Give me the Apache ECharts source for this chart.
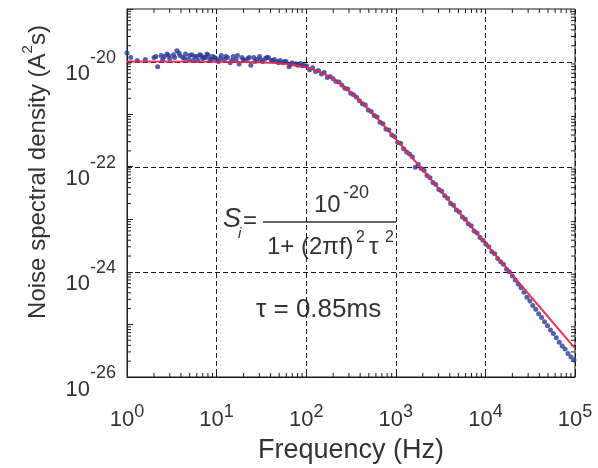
<!DOCTYPE html>
<html>
<head>
<meta charset="utf-8">
<script src="https://cdn.jsdelivr.net/npm/echarts@6/dist/echarts.min.js"></script>
<style>
  html, body { margin: 0; padding: 0; background: #ffffff; }
  #chart { width: 598px; height: 468px; }
</style>
</head>
<body>
<div id="chart"></div>
<script>
// Measured current-noise spectrum (frequency in Hz, PSD in A^2 s)
const freqHz = [
  1.0, 1.1, 1.3, 1.6, 2.0, 2.2, 2.4, 2.6, 2.8, 3.0, 3.3, 3.6, 3.9, 4.2, 4.5, 4.9, 5.3, 5.7, 6.2, 6.7, 7.2, 7.8, 8.4, 9.1, 9.8,
  10.5, 11.3, 12.2, 13.2, 14.2, 15.3, 16.5, 17.8, 19.2, 20.7, 22.3, 24.1, 26.0, 28.0, 30.2, 32.6, 35.1, 37.9, 40.9, 44.1,
  47.5, 51.3, 55.3, 59.6, 64.3, 69.4, 74.8, 80.7, 87.0, 93.8,
  101, 109, 118, 127, 137, 148, 159, 172, 185, 200, 215, 232, 250, 270, 291, 314, 338, 365, 393, 424, 457, 493, 532, 573,
  618, 667, 719, 775, 836, 902, 973,
  1050, 1130, 1220, 1320, 1420, 1530, 1650, 1780, 1920, 2070, 2230, 2410, 2600, 2800, 3020, 3260, 3510, 3790, 4090, 4410,
  4750, 5130, 5530, 5960, 6430, 6940, 7480, 8070, 8700, 9380,
  10100, 10900, 11800, 12700, 13700, 14800, 15900, 17200, 18500, 20000, 21500, 23200, 25000, 27000, 29100, 31400, 33800,
  36500, 39300, 42400, 45700, 49300, 53200, 57300, 61800, 66700, 71900, 77500, 83600, 90200, 97300,
  // second sweep over the low-frequency plateau
  2.1, 2.5, 2.9, 3.4, 3.8, 4.4, 5.0, 5.5, 6.0, 6.5, 7.0, 7.5, 8.1, 8.8, 9.5, 11.0, 12.7, 14.8, 17.1, 19.9, 23.1, 26.8,
  31.1, 36.3, 42.3, 49.3, 57.4, 66.8, 77.8, 90.5
];
const measuredPsd = [
  1.45e-20, 1.2e-20, 1.05e-20, 1.1e-20, 1.2e-20, 0.8e-20, 1.3e-20, 1.25e-20, 1.4e-20, 1.15e-20, 1.35e-20, 1.6e-20, 1.3e-20,
  1.2e-20, 1.4e-20, 1.1e-20, 1.35e-20, 1.25e-20, 1.05e-20, 1.3e-20, 1.2e-20, 1.4e-20, 1.1e-20, 1.25e-20, 1.15e-20,
  1.0e-20, 1.3e-20, 1.1e-20, 1.2e-20, 0.95e-20, 1.25e-20, 1.1e-20, 0.9e-20, 1.2e-20, 1.05e-20, 1.15e-20, 0.85e-20, 1.2e-20,
  1.1e-20, 1.25e-20, 1.0e-20, 1.15e-20, 1.2e-20, 1.05e-20, 1.1e-20, 1.0e-20, 1.05e-20, 0.95e-20, 1.0e-20, 0.8e-20,
  0.95e-20, 0.9e-20, 0.85e-20, 0.92e-20, 0.85e-20,
  8.2e-21, 7.0e-21, 7.6e-21, 6.5e-21, 6.8e-21, 5.8e-21, 6.2e-21, 5.0e-21, 5.2e-21, 4.7e-21, 4.2e-21, 4.1e-21, 3.6e-21,
  3.1e-21, 3.0e-21, 2.5e-21, 2.35e-21, 2.1e-21, 1.8e-21, 1.58e-21, 1.5e-21, 1.2e-21, 1.12e-21, 9.4e-22, 8.8e-22, 7.0e-22,
  6.6e-22, 5.2e-22, 5.0e-22, 4.0e-22, 3.7e-22,
  2.9e-22, 2.8e-22, 2.2e-22, 1.9e-22, 1.75e-22, 1.55e-22, 9.8e-23, 1.12e-22, 9.2e-23, 8.5e-23, 6.8e-23, 6.2e-23, 5.0e-23,
  4.6e-23, 3.7e-23, 3.4e-23, 2.8e-23, 2.5e-23, 2.0e-23, 1.85e-23, 1.5e-23, 1.38e-23, 1.1e-23, 1.0e-23, 8.2e-24, 7.5e-24,
  6.0e-24, 5.5e-24, 4.5e-24, 4.0e-24,
  3.4e-24, 3.0e-24, 2.4e-24, 2.2e-24, 1.8e-24, 1.55e-24, 1.4e-24, 1.12e-24, 1.0e-24, 8.3e-25, 7.0e-25, 5.9e-25, 5.0e-25,
  4.1e-25, 3.3e-25, 2.8e-25, 2.3e-25, 1.95e-25, 1.6e-25, 1.35e-25, 1.12e-25, 9.4e-26, 7.8e-26, 6.7e-26, 5.6e-26, 4.6e-26,
  3.9e-26, 3.4e-26, 2.8e-26, 2.4e-26, 2.1e-26,
  1.25e-20, 1.1e-20, 1.3e-20, 1.2e-20, 1.45e-20, 1.15e-20, 1.3e-20, 1.05e-20, 1.25e-20, 1.35e-20, 1.15e-20, 1.2e-20,
  1.3e-20, 1.1e-20, 1.2e-20, 1.15e-20, 1.25e-20, 1.05e-20, 1.3e-20, 1.1e-20, 1.2e-20, 1.0e-20, 1.1e-20, 1.2e-20,
  1.05e-20, 0.95e-20, 1.0e-20, 0.88e-20, 0.9e-20, 0.83e-20
];

// Lorentzian fit, tau = 0.85 ms
const fitFreqHz = [1, 10, 30, 50, 70, 100, 130, 160, 187, 220, 260, 300, 350, 420, 500, 600, 750, 1000, 1500, 2000, 3000,
  5000, 10000, 20000, 50000, 100000];
const fitPsd = [1.0e-20, 9.97e-21, 9.75e-21, 9.33e-21, 8.77e-21, 7.78e-21, 6.74e-21, 5.77e-21, 5.0e-21, 4.19e-21, 3.41e-21,
  2.80e-21, 2.22e-21, 1.65e-21, 1.23e-21, 8.85e-22, 5.85e-22, 3.38e-22, 1.53e-22, 8.67e-23, 3.87e-23, 1.40e-23, 3.5e-24,
  8.74e-25, 1.40e-25, 3.5e-26];

// Tick labels (powers of ten) and dashed horizontal grid levels
const xLabelExponents = [0, 1, 2, 3, 4, 5];
const yLabelExponents = [-26, -24, -22, -20];
const yGridLevels = [1e-24, 1e-22, 1e-20];

// Minor tick positions: 2..9 within each decade
const minorTickX = [];
for (let e = 0; e < 5; e++) for (let m = 2; m <= 9; m++) minorTickX.push([m * Math.pow(10, e), 1e-22]);
const minorTickY = [];
for (let e = -26; e < -19; e++) for (let m = 2; m <= 9; m++) minorTickY.push([10, m * Math.pow(10, e)]);

const FONT = '"Liberation Sans", Arial, Helvetica, sans-serif';
const TXT = '#333333';
const AXIS = '#1a1a1a';
const DASH = [5, 3];

function powLabel(allowed) {
  return function (v) {
    const e = Math.round(Math.log10(v));
    return allowed.indexOf(e) >= 0 ? '{b|10}{s|' + e + '}' : '';
  };
}
const xLabelRich = {
  b: { fontSize: 22, fontFamily: FONT, color: TXT, lineHeight: 28, verticalAlign: 'bottom' },
  s: { fontSize: 18, fontFamily: FONT, color: TXT, lineHeight: 16, verticalAlign: 'top' }
};
const yLabelRich = {
  b: { fontSize: 22, fontFamily: FONT, fill: TXT, lineHeight: 36, verticalAlign: 'bottom' },
  s: { fontSize: 18, fontFamily: FONT, fill: TXT, lineHeight: 16, verticalAlign: 'top' }
};

// Short inside ticks on all four sides at the 2..9 positions
function minorTickRenderer(isX) {
  return function (params, api) {
    const cs = params.coordSys;
    const pt = api.coord([api.value(0), api.value(1)]);
    const L = 4;
    const st = { stroke: AXIS, lineWidth: 1 };
    if (isX) {
      const x = pt[0];
      return { type: 'group', children: [
        { type: 'line', shape: { x1: x, y1: cs.y + cs.height, x2: x, y2: cs.y + cs.height - L }, style: st },
        { type: 'line', shape: { x1: x, y1: cs.y, x2: x, y2: cs.y + L }, style: st }
      ] };
    }
    const y = pt[1];
    return { type: 'group', children: [
      { type: 'line', shape: { x1: cs.x, y1: y, x2: cs.x + L, y2: y }, style: st },
      { type: 'line', shape: { x1: cs.x + cs.width, y1: y, x2: cs.x + cs.width - L, y2: y }, style: st }
    ] };
  };
}

// Dashed horizontal grid lines at every second decade
function hGridRenderer(params, api) {
  const cs = params.coordSys;
  const y = Math.round(api.coord([api.value(0), api.value(1)])[1]) + 0.5;
  return {
    type: 'line',
    shape: { x1: cs.x, y1: y, x2: cs.x + cs.width, y2: y },
    style: { stroke: AXIS, lineWidth: 1, lineDash: DASH }
  };
}

// Power-of-ten labels beside the left axis, placed by the y scale
function yLabelRenderer(params, api) {
  const cs = params.coordSys;
  const v = api.value(1);
  const y = api.coord([api.value(0), v])[1];
  const e = Math.round(Math.log10(v));
  return {
    type: 'text',
    x: cs.x - 11, y: y,
    style: {
      text: '{b|10}{s|' + e + '}', align: 'right', verticalAlign: 'middle',
      padding: [11, 0, 0, 0], rich: yLabelRich
    }
  };
}

const chart = echarts.init(document.getElementById('chart'), null, { renderer: 'canvas' });
chart.setOption({
  animation: false,
  backgroundColor: '#ffffff',
  grid: {
    left: 127, right: 23, top: 9, bottom: 91,
    containLabel: false, outerBoundsMode: 'none',
    show: true, borderColor: AXIS, borderWidth: 1, backgroundColor: 'transparent'
  },
  xAxis: {
    type: 'log', logBase: 10, min: 1, max: 1e5, splitNumber: 5,
    name: 'Frequency (Hz)', nameLocation: 'middle', nameGap: 60,
    nameTextStyle: { fontSize: 27, fontFamily: FONT, color: TXT },
    axisLine: { show: true, lineStyle: { color: AXIS, width: 1 } },
    axisTick: { show: true, inside: true, length: 6, lineStyle: { color: AXIS } },
    splitLine: { show: true, lineStyle: { color: AXIS, type: DASH, width: 1 } },
    axisLabel: {
      formatter: powLabel(xLabelExponents), rich: xLabelRich, margin: 26,
      showMinLabel: true, showMaxLabel: true, hideOverlap: false
    }
  },
  yAxis: {
    type: 'log', logBase: 10, min: 1e-26, max: 1e-19, splitNumber: 7,
    axisLine: { show: true, lineStyle: { color: AXIS, width: 1 } },
    axisTick: { show: true, inside: true, length: 6, lineStyle: { color: AXIS } },
    splitLine: { show: false },
    axisLabel: { show: false }
  },
  series: [
    { type: 'custom', silent: true, clip: false, z: 1, renderItem: minorTickRenderer(true), data: minorTickX },
    { type: 'custom', silent: true, clip: false, z: 1, renderItem: minorTickRenderer(false), data: minorTickY },
    { type: 'custom', silent: true, clip: false, z: 1, renderItem: hGridRenderer, data: yGridLevels.map(v => [10, v]) },
    {
      type: 'custom', silent: true, clip: false, z: 2, renderItem: yLabelRenderer,
      data: yLabelExponents.map(e => [10, Math.pow(10, e)])
    },
    {
      name: 'Measured', type: 'scatter', z: 3,
      symbol: 'circle', symbolSize: 5,
      itemStyle: { color: '#2a3a96' },
      data: freqHz.map((f, i) => [f, measuredPsd[i]])
    },
    {
      name: 'Fit', type: 'line', z: 4,
      showSymbol: false, smooth: false,
      lineStyle: { color: '#e8234d', width: 2, opacity: 0.9 },
      data: fitFreqHz.map((f, i) => [f, fitPsd[i]])
    }
  ],
  graphic: [
    {
      type: 'text', x: 35, y: 172, rotation: Math.PI / 2,
      style: {
        text: '{t|Noise spectral density (A}{s|2}{t|s)}', align: 'center', verticalAlign: 'middle',
        rich: {
          t: { fontSize: 24, fontFamily: FONT, fill: TXT, lineHeight: 30, verticalAlign: 'bottom' },
          s: { fontSize: 15, fontFamily: FONT, fill: TXT, lineHeight: 14, verticalAlign: 'top' }
        }
      }
    },
    { type: 'text', left: 223, top: 206, style: { text: 'S', font: 'italic 27px ' + FONT, fill: TXT } },
    { type: 'text', left: 238, top: 226, style: { text: 'i', font: 'italic 15px ' + FONT, fill: TXT } },
    { type: 'text', left: 243, top: 209, style: { text: '=', font: '24px ' + FONT, fill: TXT } },
    { type: 'line', shape: { x1: 263, y1: 222, x2: 396, y2: 222 }, style: { stroke: TXT, lineWidth: 1.5 } },
    { type: 'text', left: 314, top: 193, style: { text: '10', font: '24px ' + FONT, fill: TXT } },
    { type: 'text', left: 343, top: 184, style: { text: '-20', font: '18px ' + FONT, fill: TXT } },
    { type: 'text', left: 267, top: 235, style: { text: '1+ (2\u03c0f)', font: '24px ' + FONT, fill: TXT } },
    { type: 'text', left: 356, top: 230, style: { text: '2', font: '16px ' + FONT, fill: TXT } },
    { type: 'text', left: 369, top: 235, style: { text: '\u03c4', font: '24px ' + FONT, fill: TXT } },
    { type: 'text', left: 385, top: 230, style: { text: '2', font: '16px ' + FONT, fill: TXT } },
    { type: 'text', left: 256, top: 297, style: { text: '\u03c4 = 0.85ms', font: '26px ' + FONT, fill: TXT } }
  ]
});
</script>
</body>
</html>
